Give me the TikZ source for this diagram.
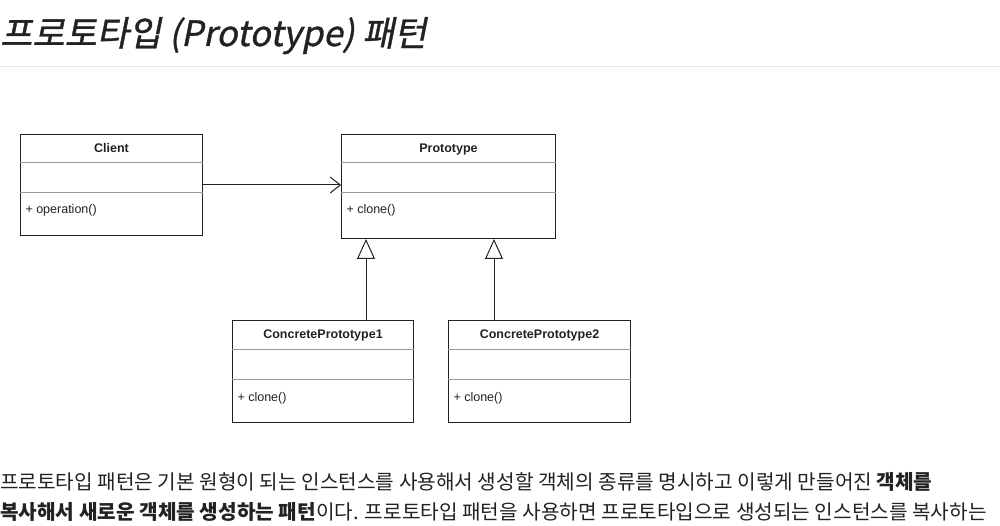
\documentclass[tikz,border=0pt]{standalone}
\usepackage{fontspec}
\usetikzlibrary{arrows.meta,calc}
\setmainfont{Liberation Sans}
\newfontfamily\kr{Noto Sans CJK KR}
\newfontfamily\krtitle{Noto Sans CJK KR}[FakeSlant=0.2,FakeBold=1.0]
\definecolor{ink}{HTML}{222222}
\definecolor{rule}{HTML}{E6E6E6}
\begin{document}
\begin{tikzpicture}[x=1pt,y=-1pt,
  umlbox/.style={draw=ink, line width=1pt, rectangle, inner sep=0pt, anchor=north west},
  sepline/.style={draw=black!40, line width=0.8pt},
  cname/.style={anchor=north, font=\bfseries\fontsize{12.5}{14}\selectfont, text=ink},
  cop/.style={anchor=west, font=\fontsize{12.5}{14}\selectfont, text=ink},
  assoc/.style={draw=ink, line width=1pt, -{Straight Barb[length=10pt,width=16pt,line width=1pt]}},
  inh/.style={draw=ink, line width=1pt, -{Triangle[open,length=20pt,width=18pt,line width=1pt,fill=white]}},
  bodytext/.style={anchor=base west, inner sep=0pt, text=ink, font=\kr\fontsize{20.2}{24}\selectfont}
]
\useasboundingbox[fill=white] (0,0) rectangle (1000,526);

% heading
\node[anchor=base west, inner sep=0pt, text=ink, font=\krtitle\fontsize{35}{40}\selectfont] (title) at (0,46) {프로토타입 (Prototype) 패턴};
\draw[rule, line width=1pt] (0,67) -- (1000,67);

% classes
\node[umlbox, minimum width=182pt, minimum height=101pt] (client) at (20,134) {};
\node[umlbox, minimum width=214pt, minimum height=104pt] (proto) at (341,134) {};
\node[umlbox, minimum width=181pt, minimum height=102pt] (cp1) at (232,320) {};
\node[umlbox, minimum width=182pt, minimum height=102pt] (cp2) at (448,320) {};

\foreach \n/\a/\b in {client/28/58, proto/28/58, cp1/29/59, cp2/29/59}{
  \draw[sepline] ($(\n.north west)+(0,\a)$) -- ($(\n.north east)+(0,\a)$);
  \draw[sepline] ($(\n.north west)+(0,\b)$) -- ($(\n.north east)+(0,\b)$);
}

\node[cname] (clientname) at ($(client.north)+(0,6)$) {Client};
\node[cname] (protoname) at ($(proto.north)+(0,6)$) {Prototype};
\node[cname] (cp1name) at ($(cp1.north)+(0,6)$) {ConcretePrototype1};
\node[cname] (cp2name) at ($(cp2.north)+(0,6)$) {ConcretePrototype2};

\node[cop] (clientop) at ($(client.north west)+(2,76)$) {+ operation()};
\node[cop] (protoop) at ($(proto.north west)+(2,76)$) {+ clone()};
\node[cop] (cp1op) at ($(cp1.north west)+(2,78)$) {+ clone()};
\node[cop] (cp2op) at ($(cp2.north west)+(2,78)$) {+ clone()};

% connectors
\draw[assoc] (client.east) -- (client.east -| proto.west);
\coordinate (c1) at ($(cp1.north west)+(134,0)$);
\coordinate (c2) at ($(cp2.north west)+(46,0)$);
\draw[inh] (c1) -- (c1 |- proto.south);
\draw[inh] (c2) -- (c2 |- proto.south);

% paragraph
\node[bodytext] (line1) at (0,489) {프로토타입 패턴은 기본 원형이 되는 인스턴스를 사용해서 생성할 객체의 종류를 명시하고 이렇게 만들어진 \textbf{객체를}};
\node[bodytext] (line2) at (0,519) {\textbf{복사해서 새로운 객체를 생성하는 패턴}이다. 프로토타입 패턴을 사용하면 프로토타입으로 생성되는 인스턴스를 복사하는};
\end{tikzpicture}
\end{document}
